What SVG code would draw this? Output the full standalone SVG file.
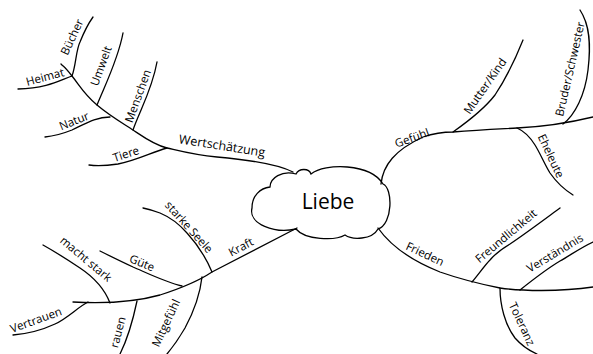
<svg xmlns="http://www.w3.org/2000/svg" width="593" height="354" viewBox="0 0 593 354">
<style>
.ln{fill:none;stroke:#000;stroke-width:1.3;stroke-linecap:round}
.t{font-family:"Open Sans","DejaVu Sans",sans-serif;font-size:11.5px;fill:#000;text-anchor:middle}
</style>
<rect width="593" height="354" fill="#fff"/>
<g id="connectors">
<path class="ln" d="M293,172 C275,163 240,159 217,157 S180,151 167,148 S142,136 133,130 S110,116 97,105 S80,86 72,76 S65,68 61,64"/>
<path class="ln" d="M167,148 C152,152 138,160 118,164 C105,166 95,166 89,165"/>
<path class="ln" d="M133,130 C140,110 152,90 157,62"/>
<path class="ln" d="M110,117 C95,117 85,124 72,130 C62,134 55,136 45,137"/>
<path class="ln" d="M97,105 C105,85 118,60 123,33"/>
<path class="ln" d="M72,76 C60,80 48,88 18,89"/>
<path class="ln" d="M72,76 C76,65 76,50 80,42 C84,32 88,24 93,17"/>
<path class="ln" d="M381,184 C383,165 395,150 423,137 C435,133 445,132 453,132 C480,130 500,129 517,128 C540,127 560,125 593,117"/>
<path class="ln" d="M453,132 C470,120 485,108 495,95 C505,80 515,60 523,40"/>
<path class="ln" d="M517,128 C524,131 530,137 535,145 C540,153 545,165 550,173 C557,183 565,190 573,195"/>
<path class="ln" d="M563,124 C575,115 585,95 588,70 C591,45 590,25 580,10"/>
<path class="ln" d="M378,228 C390,245 410,260 440,272 C460,279 480,284 500,288 C520,291 560,292 593,287"/>
<path class="ln" d="M472,282 C478,275 485,265 490,260 C495,254 500,250 510,244 C525,234 545,219 560,208"/>
<path class="ln" d="M500,288 C500,305 505,325 515,338 C522,346 530,351 537,354"/>
<path class="ln" d="M520,290 C530,282 545,270 560,261 C572,254 582,247 593,242"/>
<path class="ln" d="M297,228 L212,272 C200,280 185,287 160,295 C135,302 110,304 73,302"/>
<path class="ln" d="M212,272 C207,260 198,245 187,233 C180,225 172,218 160,213 C152,210 148,209 143,208"/>
<path class="ln" d="M182,286 C165,282 145,272 133,267 C120,261 110,256 100,251"/>
<path class="ln" d="M202,277 C200,295 192,315 185,328 C178,340 172,348 167,354"/>
<path class="ln" d="M110,303 C105,290 95,278 80,268 C65,258 52,250 43,245"/>
<path class="ln" d="M88,302 C78,307 68,318 55,324 C40,331 25,334 13,335"/>
<path class="ln" d="M137,301 C133,320 127,340 120,354"/>
</g>
<g id="liebe">
<path class="ln" d="M270,187 C270,178 282,170 296,174 C299,168 309,168 311,174 C325,163 370,163 383,184 C393,188 393,224 378,229 C372,240 352,240 345,235 C335,241 305,240 296,229 C275,234 248,224 252,208 C252,196 260,188 270,187 Z" fill="#fff"/>
<text x="328" y="209" style="font-family:'Open Sans','DejaVu Sans',sans-serif;font-size:21px;text-anchor:middle">Liebe</text>
</g>
<g id="wertschaetzung"><text class="t" transform="translate(222,146) rotate(9)" y="4" style="font-size:12.5px">Wertschätzung</text></g>
<g id="tiere"><text class="t" transform="translate(126,154) rotate(-18)" y="4">Tiere</text></g>
<g id="menschen"><text class="t" transform="translate(138,96) rotate(-70)" y="4">Menschen</text></g>
<g id="natur"><text class="t" transform="translate(74,121) rotate(-22)" y="4">Natur</text></g>
<g id="umwelt"><text class="t" transform="translate(101,66) rotate(-70)" y="4">Umwelt</text></g>
<g id="heimat"><text class="t" transform="translate(45,77) rotate(-15)" y="4">Heimat</text></g>
<g id="buecher"><text class="t" transform="translate(72,37) rotate(-65)" y="4">Bücher</text></g>
<g id="gefuehl"><text class="t" transform="translate(412,138) rotate(-20)" y="4">Gefühl</text></g>
<g id="mutterkind"><text class="t" transform="translate(485,86) rotate(-55)" y="4">Mutter/Kind</text></g>
<g id="eheleute"><text class="t" transform="translate(551,156) rotate(65)" y="4">Eheleute</text></g>
<g id="bruderschwester"><text class="t" transform="translate(570,69) rotate(-77)" y="4">Bruder/Schwester</text></g>
<g id="frieden"><text class="t" transform="translate(425,254) rotate(25)" y="4">Frieden</text></g>
<g id="freundlichkeit"><text class="t" transform="translate(506,236) rotate(-40)" y="4">Freundlichkeit</text></g>
<g id="toleranz"><text class="t" transform="translate(522,324) rotate(65)" y="4">Toleranz</text></g>
<g id="verstaendnis"><text class="t" transform="translate(555,253) rotate(-31)" y="4">Verständnis</text></g>
<g id="kraft"><text class="t" transform="translate(241,247) rotate(-28)" y="4">Kraft</text></g>
<g id="starkeseele"><text class="t" transform="translate(189,227) rotate(48)" y="4">starke Seele</text></g>
<g id="guete"><text class="t" transform="translate(142,263) rotate(22)" y="4">Güte</text></g>
<g id="mitgefuehl"><text class="t" transform="translate(166,323) rotate(-65)" y="4">Mitgefühl</text></g>
<g id="machtstark"><text class="t" transform="translate(86,259) rotate(40)" y="4">macht stark</text></g>
<g id="vertrauen"><text class="t" transform="translate(36,320) rotate(-20)" y="4">Vertrauen</text></g>
<g id="rauen"><text class="t" transform="translate(122,317) rotate(-75)" y="4" style="text-anchor:end">rauen</text></g>
</svg>
